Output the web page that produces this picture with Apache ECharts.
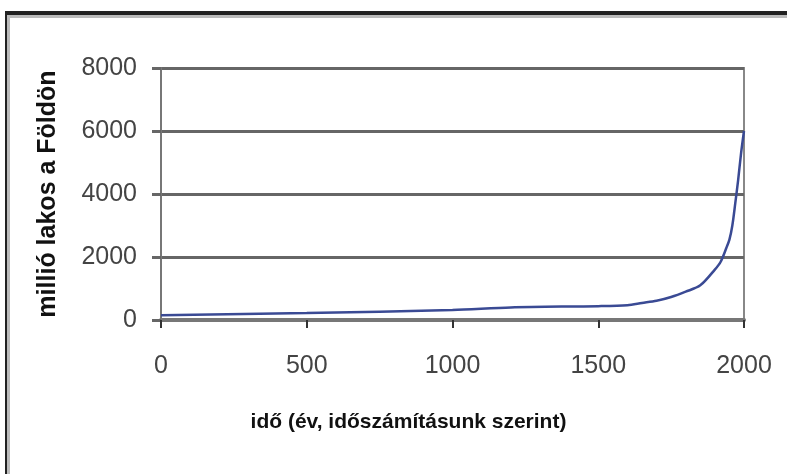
<!DOCTYPE html>
<html>
<head>
<meta charset="utf-8">
<script src="https://cdn.jsdelivr.net/npm/echarts@6/dist/echarts.min.js"></script>
<style>
  html, body { margin: 0; padding: 0; background: #fff; }
  #chart { width: 787px; height: 474px; }
</style>
</head>
<body>
<div id="chart"></div>
<script>
// világ népessége (millió fő), évenként
const years = [0, 500, 1000, 1200, 1500, 1600, 1650, 1700, 1750, 1800, 1850, 1900, 1920, 1940, 1950, 1960, 1970, 1980, 1990, 2000];
const population = [150, 220, 320, 400, 440, 470, 540, 610, 730, 900, 1100, 1600, 1850, 2300, 2550, 3000, 3700, 4450, 5300, 6000];
const xTicks = [0, 500, 1000, 1500, 2000];
const yTicks = [0, 2000, 4000, 6000, 8000];

const xTitle = 'idő (év, időszámításunk szerint)';
const yTitle = 'millió lakos a Földön';

let myChart = echarts.init(document.getElementById('chart'));

let points = years.map(function (y, i) {
  return [y, population[i]];
});

let option = {
  animation: false,
  backgroundColor: '#fff',
  textStyle: { fontFamily: 'Liberation Sans, Arial, sans-serif' },
  grid: {
    left: 161,
    right: 43,
    top: 68,
    bottom: 154,
    show: true,
    borderColor: '#888',
    borderWidth: 2
  },
  graphic: [
    { type: 'rect', shape: { x: 5, y: 11, width: 782, height: 4 }, style: { fill: '#222' } },
    { type: 'rect', shape: { x: 7, y: 15, width: 780, height: 3 }, style: { fill: '#bbb' } },
    { type: 'rect', shape: { x: 5, y: 11, width: 2, height: 463 }, style: { fill: '#222' } },
    { type: 'rect', shape: { x: 7, y: 15, width: 3, height: 459 }, style: { fill: '#bbb' } }
  ],
  xAxis: {
    type: 'value',
    min: xTicks[0],
    max: xTicks[xTicks.length - 1],
    interval: 500,
    name: xTitle,
    nameLocation: 'middle',
    nameGap: 92,
    nameTextStyle: {
      fontSize: 21,
      fontWeight: 'bold',
      color: '#111',
      padding: [0, 88, 0, 0]
    },
    axisLine: { lineStyle: { color: '#777', width: 4 } },
    axisTick: { show: true, length: 8, lineStyle: { color: '#333', width: 2 } },
    splitLine: { show: false },
    axisLabel: {
      fontSize: 25,
      color: '#444',
      margin: 34,
      formatter: function (v) { return String(v); }
    }
  },
  yAxis: {
    type: 'value',
    min: yTicks[0],
    max: yTicks[yTicks.length - 1],
    interval: 2000,
    name: yTitle,
    nameLocation: 'middle',
    nameGap: 100,
    nameRotate: 90,
    nameTextStyle: {
      fontSize: 25,
      fontWeight: 'bold',
      color: '#111'
    },
    axisLine: { show: true, lineStyle: { color: '#777', width: 2 } },
    axisTick: { show: true, length: 9, lineStyle: { color: '#666', width: 3 } },
    splitLine: { show: true, lineStyle: { color: '#666', width: 3 } },
    axisLabel: {
      fontSize: 25,
      color: '#444',
      margin: 24,
      formatter: function (v) { return String(v); }
    }
  },
  series: [
    {
      name: 'népesség',
      type: 'line',
      data: points,
      smooth: 0.3,
      showSymbol: false,
      lineStyle: { color: '#3a4a94', width: 2.5 }
    }
  ]
};

option && myChart.setOption(option);
</script>
</body>
</html>
